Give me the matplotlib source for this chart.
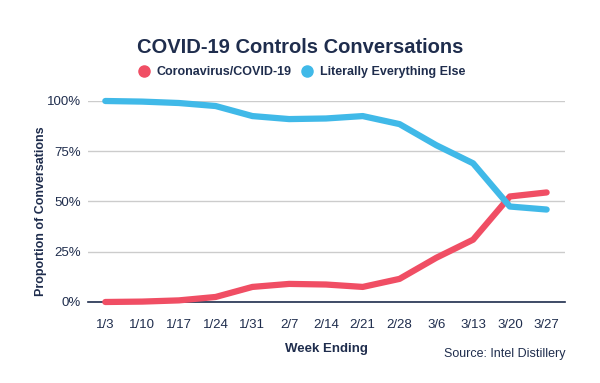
import matplotlib.pyplot as plt
from matplotlib.ticker import PercentFormatter
from matplotlib.lines import Line2D

plt.rcParams['font.family'] = ['Liberation Sans', 'DejaVu Sans']

weeks = ["1/3", "1/10", "1/17", "1/24", "1/31", "2/7", "2/14", "2/21", "2/28", "3/6", "3/13", "3/20", "3/27"]
covid = [0.0, 0.2, 0.8, 2.5, 7.5, 9.0, 8.7, 7.5, 11.5, 22.0, 31.0, 52.5, 54.5]
everything_else = [100.0, 99.7, 99.0, 97.5, 92.5, 91.0, 91.3, 92.5, 88.5, 78.0, 69.0, 47.5, 46.0]

navy = "#1f2d4d"
red = "#f04e64"
blue = "#40b9e8"

fig = plt.figure(figsize=(6, 3.83), dpi=100)
ax = fig.add_axes([0.1467, 0.2115, 0.795, 0.5248])

x = list(range(len(weeks)))
ax.plot(x, covid, color=red, lw=4.5, solid_capstyle="round", solid_joinstyle="round", clip_on=False, zorder=3)
ax.plot(x, everything_else, color=blue, lw=4.5, solid_capstyle="round", solid_joinstyle="round", clip_on=False, zorder=4)

ax.set_xlim(-0.47, 12.5)
ax.set_ylim(0, 100)
ax.set_yticks([0, 25, 50, 75, 100])
ax.yaxis.set_major_formatter(PercentFormatter(decimals=0))
ax.set_xticks(x)
ax.set_xticklabels(weeks)
ax.grid(axis="y", color="#cccccc", lw=1)
ax.set_axisbelow(True)
for s in ["top", "right", "left"]:
    ax.spines[s].set_visible(False)
ax.spines["bottom"].set_color(navy)
ax.spines["bottom"].set_linewidth(1.2)
ax.tick_params(axis="both", length=0, labelsize=9.5, labelcolor=navy)
ax.tick_params(axis="y", pad=5)
ax.tick_params(axis="x", pad=12)

ax.set_xlabel("Week Ending", fontsize=9.5, fontweight="bold", color=navy, labelpad=9)
ax.set_ylabel("Proportion of Conversations", fontsize=9, fontweight="bold", color=navy, labelpad=6)
ax.yaxis.set_label_coords(-0.085, 0.45)

fig.text(0.5, 0.877, "COVID-19 Controls Conversations", ha="center", va="center",
         fontsize=14.5, fontweight="bold", color=navy)

handles = [Line2D([], [], ls="", marker="o", ms=8, color=red),
           Line2D([], [], ls="", marker="o", ms=8, color=blue)]
leg = fig.legend(handles, ["Coronavirus/COVID-19", "Literally Everything Else"], loc="center",
                 bbox_to_anchor=(0.5, 0.812), ncol=2, frameon=False, handletextpad=0.3,
                 columnspacing=0.5, handlelength=1.5, prop={"size": 9, "weight": "bold"})
for t in leg.get_texts():
    t.set_color(navy)

fig.text(0.942, 0.075, "Source: Intel Distillery", ha="right", va="center", fontsize=9, color=navy)

fig.savefig("out.png", dpi=100, facecolor="white")
